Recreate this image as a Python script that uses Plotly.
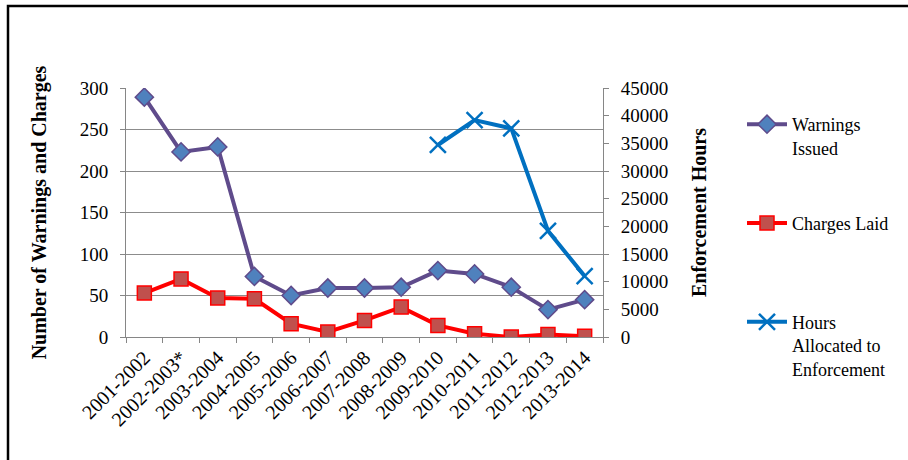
import plotly.graph_objects as go

categories = ["2001-2002", "2002-2003*", "2003-2004", "2004-2005", "2005-2006",
              "2006-2007", "2007-2008", "2008-2009", "2009-2010", "2010-2011",
              "2011-2012", "2012-2013", "2013-2014"]
warnings_issued = [289, 223, 229, 73, 50, 59, 59, 60, 80, 76, 60, 33, 45]
charges_laid = [53, 70, 47, 46, 16, 6, 20, 36, 14, 4, 0, 3, 1]
hours_enforcement = [None, None, None, None, None, None, None, None,
                     34700, 39200, 37700, 19200, 11000]

FONT = "Liberation Serif"
W, H = 908, 460
ML, MR, MT, MB = 126, 305, 88, 123
PW, PH = W - ML - MR, H - MT - MB

def px(x):
    return (x - ML) / PW

def py(y):
    return (H - MB - y) / PH

fig = go.Figure()
fig.add_trace(go.Scatter(
    x=categories, y=warnings_issued, name="Warnings<br>Issued",
    mode="lines+markers", legendgroup="a",
    line=dict(color="#5F4B8B", width=4),
    marker=dict(symbol="diamond", size=14, color="#4F81BD",
                line=dict(color="#5F4B8B", width=1.5)),
))
fig.add_trace(go.Scatter(
    x=categories, y=charges_laid, name="Charges Laid<br>&nbsp;",
    mode="lines+markers", legendgroup="b",
    line=dict(color="#FF0000", width=4),
    marker=dict(symbol="square", size=14, color="#C0504D",
                line=dict(color="#FF0000", width=1.5)),
))
fig.add_trace(go.Scatter(
    x=categories, y=hours_enforcement, name="Hours<br>Allocated to<br>Enforcement",
    mode="lines+markers", legendgroup="c", yaxis="y2",
    line=dict(color="#0070C0", width=4),
    marker=dict(symbol="x-thin", size=16, color="#0070C0",
                line=dict(color="#0070C0", width=2.5)),
))

fig.update_layout(
    width=W, height=H,
    margin=dict(l=ML, r=MR, t=MT, b=MB),
    paper_bgcolor="white", plot_bgcolor="white",
    font=dict(family=FONT, size=16, color="black"),
    showlegend=True,
    legend=dict(x=px(742), y=py(106), xanchor="left", yanchor="top",
                valign="top", tracegroupgap=49, itemwidth=40,
                maxheight=420,
                font=dict(family=FONT, size=18, color="black"),
                bgcolor="rgba(0,0,0,0)"),
    xaxis=dict(type="category", tickangle=-45, tickson="boundaries",
               ticks="outside", ticklen=5, tickcolor="#868686",
               showline=True, linecolor="#868686", linewidth=1,
               showgrid=False, tickfont=dict(family=FONT, size=20),
               automargin=False,
               range=[-0.5, len(categories) - 0.5]),
    yaxis=dict(range=[0, 300], dtick=50, ticks="outside", ticklen=5,
               tickcolor="#868686", showline=True, linecolor="#868686",
               showgrid=True, gridcolor="#8C8C8C", gridwidth=1,
               zeroline=False, tickfont=dict(family=FONT, size=19),
               ticklabelstandoff=8, automargin=False,
               title=dict(text="<b>Number of Warnings and Charges</b>",
                          font=dict(family=FONT, size=20), standoff=27)),
    yaxis2=dict(range=[0, 45000], dtick=5000, overlaying="y", side="right",
                ticks="outside", ticklen=5, tickcolor="#868686",
                showline=True, linecolor="#868686", showgrid=False,
                zeroline=False, tickfont=dict(family=FONT, size=19),
                tickformat="d", ticklabelstandoff=8, automargin=False,
                title=dict(text="<b>Enforcement Hours</b>",
                           font=dict(family=FONT, size=20), standoff=24)),
    shapes=[
        dict(type="path", xref="paper", yref="paper",
             path=f"M {px(8)} {py(470)} L {px(8)} {py(6)} L {px(920)} {py(6)}",
             line=dict(color="black", width=2.5)),
    ],
)

fig.write_html("out.html", config={"displayModeBar": False},
               post_script="document.body.style.margin='0';document.body.style.padding='0';")
